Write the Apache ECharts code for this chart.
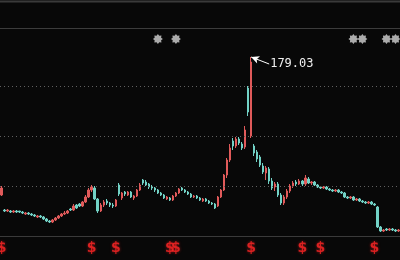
<!DOCTYPE html>
<html>
<head>
<meta charset="utf-8">
<script src="https://cdn.jsdelivr.net/npm/echarts@6/dist/echarts.min.js"></script>
<style>
html,body{margin:0;padding:0;background:#080808;}
#c{width:400px;height:260px;}
</style>
</head>
<body>
<div id="c"></div>
<script>
var openV  = [41,26,25,25,24,25,25,24,22,23,22,21,19,20,19,17,15,14,16,18,20,22,23,27,26,31,32,30,34,39,46,48,37,25,31,35,33,31,30,51,38,44,41,44,38,40,46,56,54,52,49,48,46,43,41,37,38,36,40,43,48,46,44,42,39,40,38,35,37,35,33,32,30,39,46,61,76,95,90,97,92,89,148,100,90,84,79,70,63,67,55,49,52,41,33,39,45,50,54,52,55,52,57,53,54,51,49,48,49,47,46,45,46,44,43,39,38,39,36,37,35,34,33,34,32,29,9,5,7,6,7,6,5];
var closeV = [48,25,26,24,25,24,24,23,23,22,21,20,20,19,17,15,14,16,18,20,22,23,25,26,30,28,30,34,39,46,49,37,25,31,34,33,31,30,36,42,43,42,44,39,40,46,51,53,51,49,48,46,43,41,38,39,36,40,43,47,46,44,42,39,40,38,36,37,35,33,32,28,39,46,61,76,88,90,97,93,88,106,124,174,83,77,71,64,68,55,48,52,41,33,39,45,50,53,52,55,52,58,53,54,51,49,48,49,47,46,45,46,44,43,39,38,39,36,37,35,34,33,34,32,31,9,5,6,6,7,6,5,6];
var lowV   = [40,24,24,23,23,23,23,22,21,21,20,19,18,18,16,14,13,13,15,17,19,21,22,25,25,27,29,29,33,38,44,36,23,24,29,31,29,28,29,40,36,40,40,38,36,39,45,51,50,47,46,44,42,40,37,36,35,35,39,42,45,43,41,38,38,37,35,34,34,32,31,27,29,38,45,58,74,86,88,91,86,87,120,98,80,74,69,62,56,52,46,45,39,31,31,37,43,48,50,51,50,50,52,51,50,48,47,47,46,45,44,44,43,42,38,37,37,35,35,34,33,32,32,31,30,8,4,4,5,5,5,4,4];
var highV  = [50,27,27,26,26,26,25,25,24,24,23,22,21,21,20,18,16,17,19,21,23,25,26,28,32,32,33,35,41,48,51,50,38,33,36,37,34,33,37,53,44,45,45,45,41,47,53,57,56,53,51,49,47,44,42,40,39,41,44,48,49,47,45,43,41,41,39,38,38,36,34,33,40,47,62,78,92,98,99,99,94,110,150,179.03,92,86,81,73,70,69,58,54,54,43,41,47,52,55,56,57,56,61,59,55,55,52,50,50,50,48,47,47,47,45,44,40,40,40,38,38,36,35,35,35,33,30,10,7,8,8,8,7,7];
var categories = closeV.map(function(_, i){ return 'D' + (i + 1); });

var gridLevels = [50, 100, 150];
var peakIndex = 83;
var peakValue = 179.03;
var peakLabelIndex = 89;
var peakLabelValue = 172;

var starIdx = [52, 58, 117, 120, 128, 131];
var starLevel = 197;
var dividendIdx = [0, 30, 38, 56, 58, 83, 100, 106, 124];
var dividendLevel = -12;

var STAR_PATH = 'path://M20 10 L16.47 12.68 L17.07 17.07 L12.68 16.47 L10 20 L7.32 16.47 L2.93 17.07 L3.53 12.68 L0 10 L3.53 7.32 L2.93 2.93 L7.32 3.53 L10 0 L12.68 3.53 L17.07 2.93 L16.47 7.32 Z';

var chart = echarts.init(document.getElementById('c'), null, {renderer: 'canvas'});
var ohlc = closeV.map(function(c, i){ return [openV[i], c, lowV[i], highV[i]]; });

chart.setOption({
  animation: false,
  backgroundColor: '#080808',
  grid: {left: 0, right: 0, top: 28, bottom: 3},
  xAxis: {
    type: 'category', data: categories, boundaryGap: true,
    axisLine: {show: true, lineStyle: {color: '#3a3a3a', width: 1}},
    axisTick: {show: false}, axisLabel: {show: false}, splitLine: {show: false}
  },
  yAxis: {
    type: 'value', min: -21, max: 208, scale: true,
    axisLine: {show: false}, axisTick: {show: false}, axisLabel: {show: false},
    splitLine: {show: false}
  },
  graphic: [
    {type: 'line', shape: {x1: 0, y1: 1.5, x2: 400, y2: 1.5}, style: {stroke: '#3a3a3a', lineWidth: 2}},
    {type: 'line', shape: {x1: 0, y1: 28.5, x2: 400, y2: 28.5}, style: {stroke: '#3c3c3c', lineWidth: 1}}
  ],
  series: [
    {
      type: 'candlestick',
      data: ohlc,
      barWidth: 2,
      clip: false,
      itemStyle: {
        color: '#e05a5a', color0: '#72d2c6',
        borderColor: '#e05a5a', borderColor0: '#72d2c6', borderWidth: 1
      },
      markLine: {
        silent: true, symbol: 'none', animation: false,
        label: {show: false},
        lineStyle: {color: '#606060', type: [1, 3], width: 1},
        data: gridLevels.map(function(v){ return {yAxis: v}; }).concat([
          [
            {coord: [peakIndex, peakValue], symbol: 'arrow', symbolSize: [6, 8],
             lineStyle: {color: '#ffffff', type: 'solid', width: 1}},
            {coord: [peakLabelIndex, peakLabelValue], symbol: 'none'}
          ]
        ])
      },
      markPoint: {
        silent: true, animation: false,
        data: [{coord: [peakLabelIndex, peakLabelValue], symbolSize: 0,
          label: {show: true, position: 'right', distance: 1, formatter: String(peakValue),
            color: '#f0f0f0', fontSize: 12, fontFamily: 'DejaVu Sans Mono'}}]
      }
    },
    {
      type: 'scatter', clip: false, silent: true,
      data: starIdx.map(function(i){ return [i, starLevel]; }),
      symbol: STAR_PATH, symbolSize: 10,
      itemStyle: {color: '#d4d4d4'}
    },
    {
      type: 'scatter', clip: false, silent: true,
      data: dividendIdx.map(function(i){ return [i, dividendLevel]; }),
      symbolSize: 1, itemStyle: {color: 'rgba(0,0,0,0)'},
      label: {show: true, position: 'inside', formatter: '$', color: '#ff2626',
        fontSize: 14, fontWeight: 'bold', fontFamily: 'DejaVu Sans',
        textShadowColor: 'rgba(255,40,40,0.6)', textShadowBlur: 3}
    }
  ]
});
</script>
</body>
</html>
